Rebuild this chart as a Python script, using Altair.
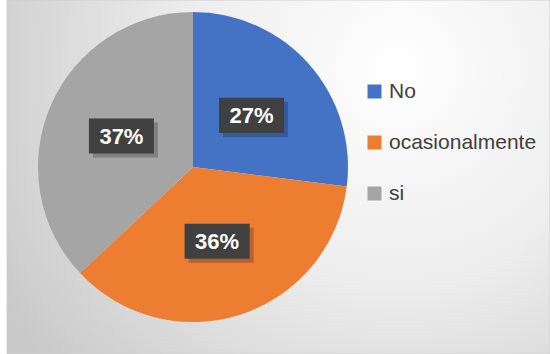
import altair as alt
import pandas as pd

categorias = ["No", "ocasionalmente", "si"]
valores = [27, 36, 37]
etiquetas = ["27%", "36%", "37%"]
orden = [1, 2, 3]
colores = ["#4472C4", "#ED7D31", "#A5A5A5"]

CX, CY, R, RL = 193, 167, 155, 78

df = pd.DataFrame({"cat": categorias, "val": valores, "lab": etiquetas, "ord": orden})

base = alt.Chart(df)

bg = alt.Chart(pd.DataFrame({"a": [0]})).mark_rect(
    fill=alt.RadialGradient(
        gradient="radial",
        x1=0.72, y1=0.3, r1=0.0,
        x2=0.72, y2=0.3, r2=0.85,
        stops=[
            alt.GradientStop(color="#ffffff", offset=0),
            alt.GradientStop(color="#eeeeee", offset=0.45),
            alt.GradientStop(color="#c9c9c9", offset=1),
        ],
    ),
    stroke="#d0d0d0",
    strokeWidth=1,
).encode(x=alt.value(7), x2=alt.value(550), y=alt.value(0), y2=alt.value(354))

pie = base.mark_arc(outerRadius=R, stroke=None).encode(
    theta=alt.Theta("val:Q", stack=True),
    order=alt.Order("ord:Q"),
    color=alt.Color(
        "cat:N",
        scale=alt.Scale(domain=categorias, range=colores),
        legend=alt.Legend(
            title=None,
            orient="none",
            legendX=364,
            legendY=81,
            symbolType="square",
            symbolSize=196,
            symbolStrokeWidth=0,
            labelFontSize=21,
            labelFont="Liberation Sans",
            labelColor="#404040",
            labelOffset=4,
            rowPadding=29,
            padding=0,
        ),
    ),
    x=alt.value(CX),
    y=alt.value(CY),
)

pos = base.transform_joinaggregate(total="sum(val)").transform_window(
    cum="sum(val)", sort=[alt.SortField("ord")]
).transform_calculate(
    mid="(datum.cum - datum.val/2) / datum.total * 2 * PI",
).transform_calculate(
    lx=f"{CX} + {RL} * sin(datum.mid)",
    ly=f"{CY} - {RL} * cos(datum.mid)",
)

box_shape = "M-1,-0.54L1,-0.54L1,0.54L-1,0.54Z"

shadow = pos.mark_point(
    shape=box_shape, size=4225, filled=True, color="#000000", opacity=0.22,
    xOffset=4, yOffset=4, strokeWidth=0,
).encode(x=alt.X("lx:Q", scale=None), y=alt.Y("ly:Q", scale=None))

box = pos.mark_point(
    shape=box_shape, size=4225, filled=True, color="#404040", opacity=1, strokeWidth=0,
).encode(x=alt.X("lx:Q", scale=None), y=alt.Y("ly:Q", scale=None))

txt = pos.mark_text(
    font="Liberation Sans", fontSize=22, fontWeight="bold", color="#ffffff",
    align="center", baseline="middle", dy=1,
).encode(x=alt.X("lx:Q", scale=None), y=alt.Y("ly:Q", scale=None), text="lab:N")

chart = alt.layer(bg, pie, shadow, box, txt).properties(
    width=550, height=354, padding=0, autosize=alt.AutoSizeParams(type="none"),
    background="#ffffff",
).configure_view(stroke=None)

chart.save("out.html", embed_options={"renderer": "svg", "actions": False})
